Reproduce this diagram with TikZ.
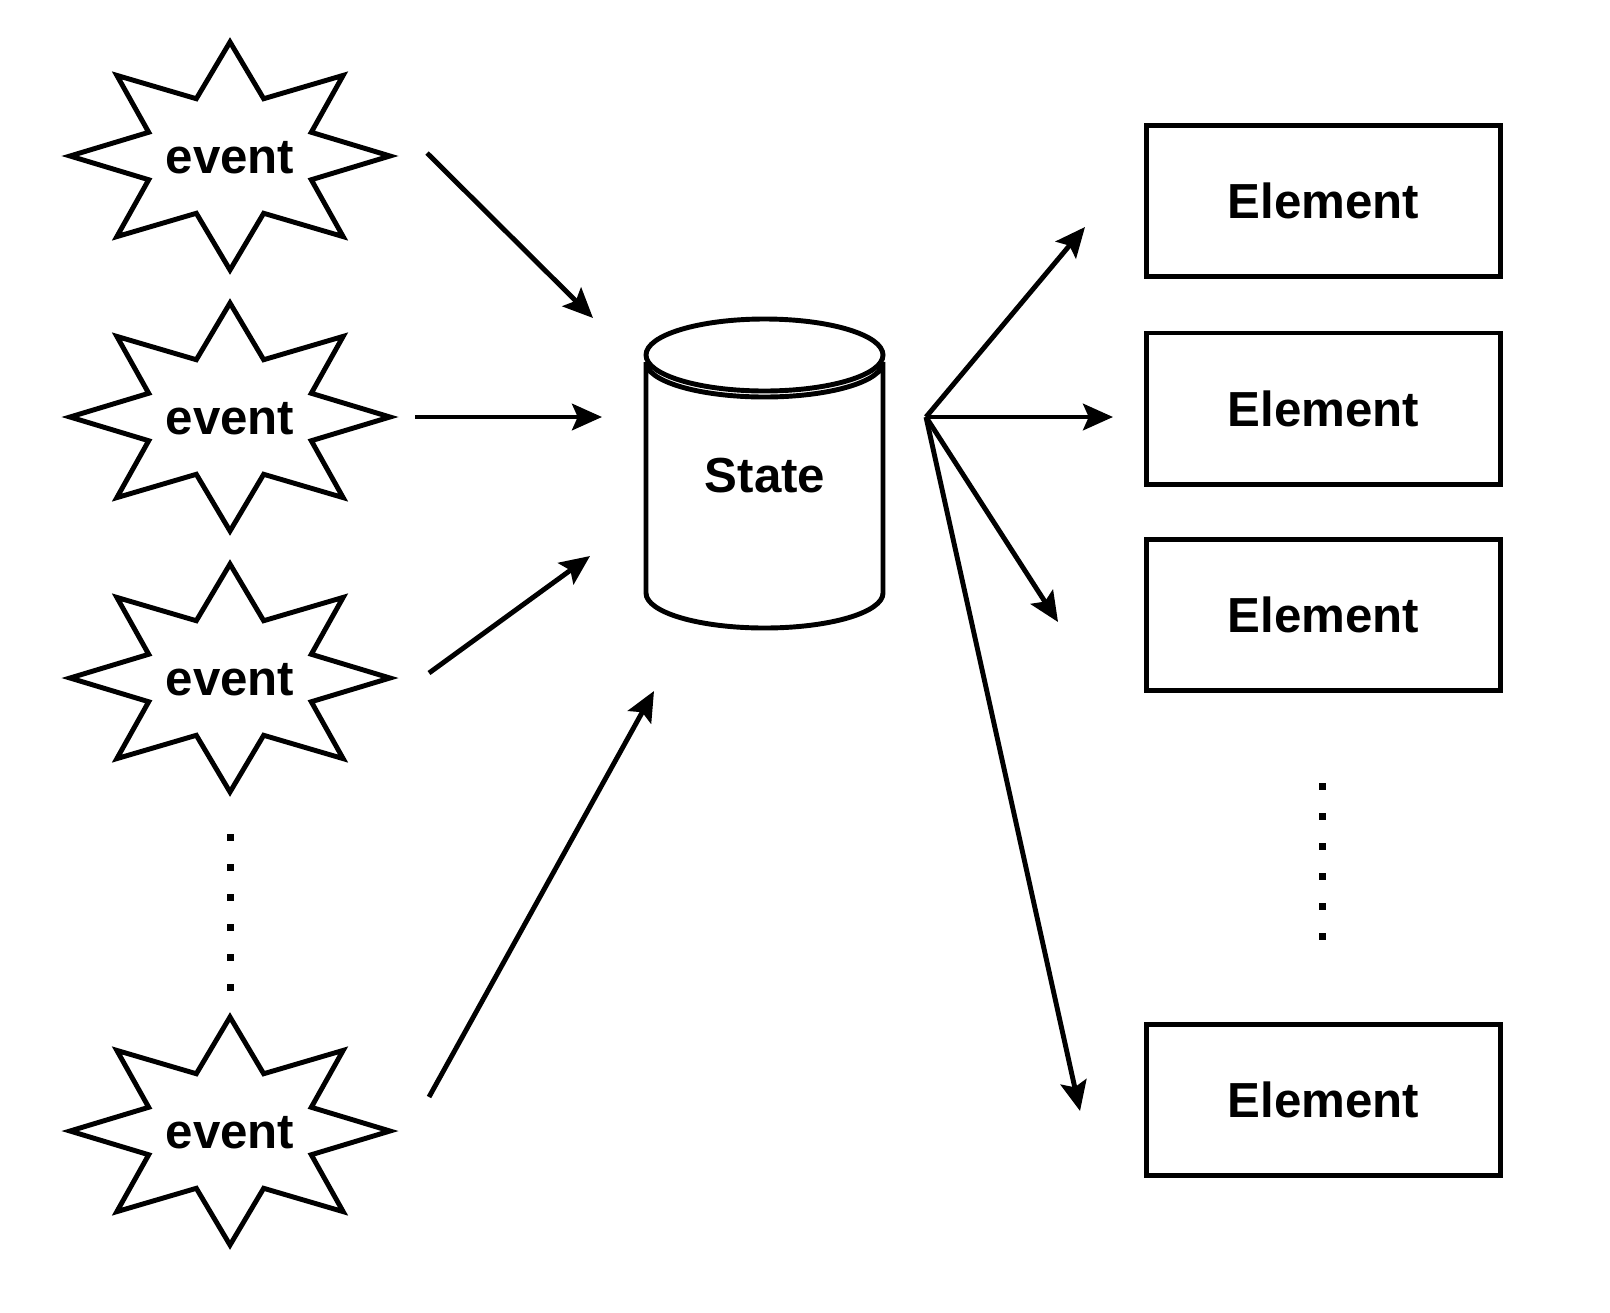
\documentclass[tikz,border=0pt]{standalone}
\usepackage{fontspec}
\setmainfont{Liberation Sans}
\usetikzlibrary{arrows.meta}
\begin{document}
\begin{tikzpicture}[x=0.01cm,y=-0.01cm,>={Stealth[length=8.5pt,width=7.5pt,inset=1.6pt]},
    every node/.style={font=\fontsize{14}{17}\selectfont\bfseries},
    outline/.style={line width=1.4pt},
    box/.style={draw,outline,minimum width=3.53cm,minimum height=1.51cm}]
  \useasboundingbox (0,0) rectangle (1610,1312);
  \foreach \n/\y in {1/156,2/417,3/678,4/1131} {
    \draw[outline] plot[samples at={0,...,15},variable=\k]
      ({230+(160-72*isodd(\k))*cos(22.5*\k)},{\y+(114-52*isodd(\k))*sin(22.5*\k)}) -- cycle;
    \node (ev\n) at (230,\y+2) {event};
  }
  \foreach \k in {0,...,5} {
    \fill (226.5,833.5+30*\k) rectangle ++(7,7);
    \fill (1318.5,782.5+30*\k) rectangle ++(7,7);
  }
  \draw[outline] (764.5,355) ellipse[x radius=118.5,y radius=36];
  \draw[outline] (646,362) -- (646,593) arc[start angle=180,end angle=0,x radius=118.5,y radius=35]
    -- (883,362) arc[start angle=0,end angle=180,x radius=118.5,y radius=35];
  \node (st) at (765,476) {State};
  \foreach \n/\y in {1/201,2/408.5,3/615,4/1100}
    \node[box] (el\n) at (1323.5,\y) {Element};
  \coordinate (e1) at (427,153);  \coordinate (i1) at (593,318);
  \coordinate (e2) at (415,417);  \coordinate (i2) at (602,417);
  \coordinate (e3) at (429,673);  \coordinate (i3) at (590,556);
  \coordinate (e4) at (429,1097); \coordinate (i4) at (654,691);
  \coordinate (hub) at (926,417);
  \coordinate (o1) at (1085,227); \coordinate (o2) at (1113,417);
  \coordinate (o3) at (1058,622); \coordinate (o4) at (1080,1111);
  \foreach \n in {1,2,3,4} {
    \draw[outline,->] (e\n) -- (i\n);
    \draw[outline,->] (hub) -- (o\n);
  }
\end{tikzpicture}
\end{document}
